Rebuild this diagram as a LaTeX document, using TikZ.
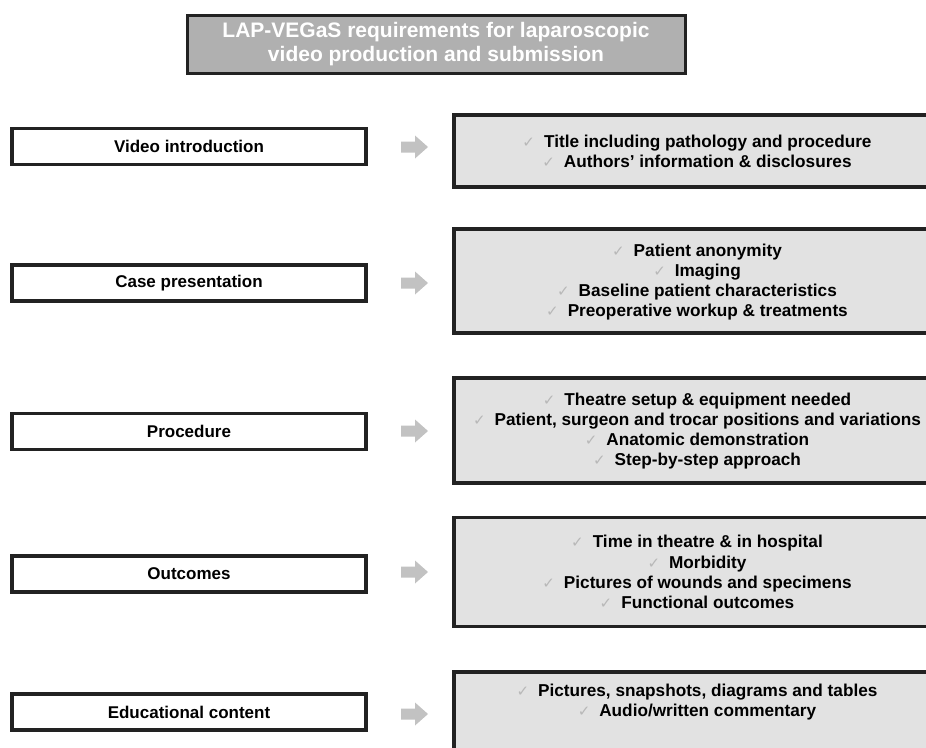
\documentclass[tikz,border=0pt]{standalone}
\usepackage{fontspec}
\setmainfont{Liberation Sans}
\newfontfamily\symfont{DejaVu Sans}
\definecolor{edgecol}{HTML}{222222}
\definecolor{titlefill}{HTML}{B0B0B0}
\definecolor{boxfill}{HTML}{E2E2E2}
\definecolor{arrowgray}{HTML}{C2C2C2}
\definecolor{tickgray}{HTML}{B8B8B8}
\newcommand{\tck}{{\symfont\fontsize{15}{15}\selectfont\textcolor{tickgray}{✓}}\hspace{9pt}}
\tikzset{
  titlebox/.style={draw=edgecol, line width=3pt, fill=titlefill, text=white,
    minimum width=498pt, minimum height=58pt, inner sep=0pt, align=center,
    font=\fontsize{21}{24}\selectfont\bfseries},
  stagebox/.style={draw=edgecol, line width=3.2pt, fill=white,
    minimum width=354pt, minimum height=36pt, inner sep=0pt,
    font=\fontsize{17}{20}\selectfont\bfseries},
  detailbox/.style={draw=edgecol, line width=3.2pt, fill=boxfill,
    minimum width=488pt, inner sep=0pt},
  detailtext/.style={align=center, inner sep=0pt,
    font=\fontsize{17.2}{20.3}\selectfont\bfseries},
  pics/grayarrow/.style={code={
    \fill[arrowgray] (-14,-5.5) -- (0,-5.5) -- (0,-11.5) -- (13,0) -- (0,11.5) -- (0,5.5) -- (-14,5.5) -- cycle;}},
}
\begin{document}
\begin{tikzpicture}[x=1pt,y=-1pt]
\useasboundingbox (0,0) rectangle (926,747);
\clip (0,0) rectangle (926,747);

\node[titlebox] (title) at (436,44.5) {LAP-VEGaS requirements for laparoscopic\\video production and submission};

% stage boxes
\node[stagebox] (s1) at (189,146.5) {Video introduction};
\node[stagebox] (s2) at (189,283) {Case presentation};
\node[stagebox] (s3) at (189,431.5) {Procedure};
\node[stagebox] (s4) at (189,574) {Outcomes};
\node[stagebox] (s5) at (189,712) {Educational content};

% arrows
\pic (a1) at (415,147) {grayarrow};
\pic (a2) at (415,283) {grayarrow};
\pic (a3) at (415,431) {grayarrow};
\pic (a4) at (415,572) {grayarrow};
\pic (a5) at (415,714) {grayarrow};

% detail boxes
\node[detailbox, minimum height=72pt] (d1) at (698,151) {};
\node[detailbox, minimum height=104pt] (d2) at (698,281) {};
\node[detailbox, minimum height=105pt] (d3) at (698,430.5) {};
\node[detailbox, minimum height=109pt] (d4) at (698,572) {};
\node[detailbox, minimum height=110pt] (d5) at (698,727) {};

\node[detailtext] (t1) at (697,151) {\tck Title including pathology and procedure\\\tck Authors’ information \& disclosures};
\node[detailtext] (t2) at (697,282) {\tck Patient anonymity\\\tck Imaging\\\tck Baseline patient characteristics\\\tck Preoperative workup \& treatments};
\node[detailtext] (t3) at (697,431) {\tck Theatre setup \& equipment needed\\\tck Patient, surgeon and trocar positions and variations\\\tck Anatomic demonstration\\\tck Step-by-step approach};
\node[detailtext] (t4) at (697,572) {\tck Time in theatre \& in hospital\\\tck Morbidity\\\tck Pictures of wounds and specimens\\\tck Functional outcomes};
\node[detailtext] (t5) at (697,702) {\tck Pictures, snapshots, diagrams and tables\\\tck Audio/written commentary};
\end{tikzpicture}
\end{document}
